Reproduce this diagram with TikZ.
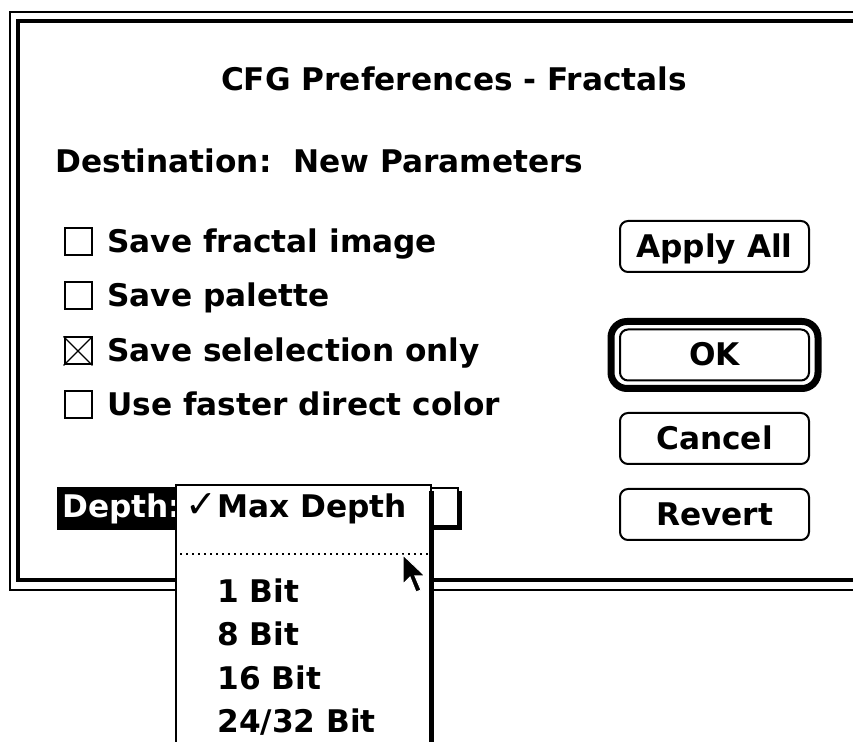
\documentclass[tikz,border=0pt]{standalone}
\usepackage{fontspec}
\usepackage{tikz}
\usetikzlibrary{calc}
\setmainfont{DejaVu Sans}
\newfontfamily\checkfont{DejaVu Sans}
\tikzstyle{dialog_text} =
  [ anchor=base west
  , inner sep=0pt
  , font=\fontsize{15.6}{18}\selectfont\bfseries
  ]
\tikzstyle{check_box} =
  [ rectangle
  , draw
  , line width=1pt
  , minimum size=13.5pt
  , inner sep=0pt
  ]
\tikzstyle{push_button} =
  [ rectangle
  , rounded corners=4pt
  , draw
  , line width=1pt
  , minimum width=94.5pt
  , minimum height=25.5pt
  , text height=11pt
  , text depth=0pt
  , inner sep=0pt
  , font=\fontsize{15.6}{18}\selectfont\bfseries
  ]
\tikzstyle{default_ring} =
  [ rectangle
  , rounded corners=8pt
  , draw
  , line width=3.5pt
  , minimum width=103.5pt
  , minimum height=33.5pt
  ]
\def\CheckMark{\makebox[16pt][l]{\checkfont\mdseries\fontsize{19}{18}\selectfont ✓}}

\begin{document}
\begin{tikzpicture}[x=0.5pt,y=-0.5pt]
    \useasboundingbox (0,0) rectangle (853,742);
    \clip (0,0) rectangle (853,742);
    \fill[white] (0,0) rectangle (853,742);

    % dialog frame
    \draw[line width=1pt]   (10,12) rectangle (880,590);
    \draw[line width=2.2pt] (18,21) rectangle (855,580);

    \node[dialog_text,anchor=base] (title) at (454,91) {CFG Preferences - Fractals};
    \node[dialog_text] (destination) at (55,173) {Destination:\ \ New Parameters};

    \node[check_box] (cb_image)     at (78,242) {};
    \node[check_box] (cb_palette)   at (78,296) {};
    \node[check_box] (cb_selection) at (78,351) {};
    \node[check_box] (cb_direct)    at (78,405) {};
    \draw[line width=0.6pt] (cb_selection.north west) -- (cb_selection.south east);
    \draw[line width=0.6pt] (cb_selection.south west) -- (cb_selection.north east);
    \node[dialog_text] (lbl_image)     at (107,253) {Save fractal image};
    \node[dialog_text] (lbl_palette)   at (107,307) {Save palette};
    \node[dialog_text] (lbl_selection) at (107,362) {Save selelection only};
    \node[dialog_text] (lbl_direct)    at (107,416) {Use faster direct color};

    \node[push_button]  (apply_all) at (714.5,246.5) {Apply All};
    \node[push_button]  (ok)        at (714.5,355)   {OK};
    \node[default_ring] (ok_ring)   at (ok)          {};
    \node[push_button]  (cancel)    at (714.5,438.5) {Cancel};
    \node[push_button]  (revert)    at (714.5,514.5) {Revert};

    % popup box and highlighted label
    \draw[line width=1pt] (250,488) rectangle (458,526);
    \draw[line width=1.5pt] (460.5,491) |- (253,528.5);
    \fill[black] (57,487) rectangle (176,530);
    \node[dialog_text,text=white] (depth) at (62,518) {Depth:};

    % pulled down menu
    \fill[white] (176,485) rectangle (431,760);
    \draw[line width=1pt] (176,760) |- (431,485) -- (431,760);
    \draw[line width=2.5pt] (431.5,491) -- (431.5,760);
    \draw[line width=1pt,dash pattern=on 1pt off 2pt] (180,554) -- (429,554);
    \node[dialog_text] (max_depth) at (185,518) {\CheckMark Max Depth};
    \node[dialog_text] (bit_1)     at (217,603) {1 Bit};
    \node[dialog_text] (bit_8)     at (217,646) {8 Bit};
    \node[dialog_text] (bit_16)    at (217,690) {16 Bit};
    \node[dialog_text] (bit_24)    at (217,733) {24/32 Bit};

    % mouse pointer
    \filldraw[fill=black,draw=white,line width=0.5pt,shift={(403,555)}]
      (0,0) -- (0,29) -- (7,22) -- (13,37) -- (18,35) -- (12,21) -- (22,21) -- cycle;
  \end{tikzpicture}
\end{document}
